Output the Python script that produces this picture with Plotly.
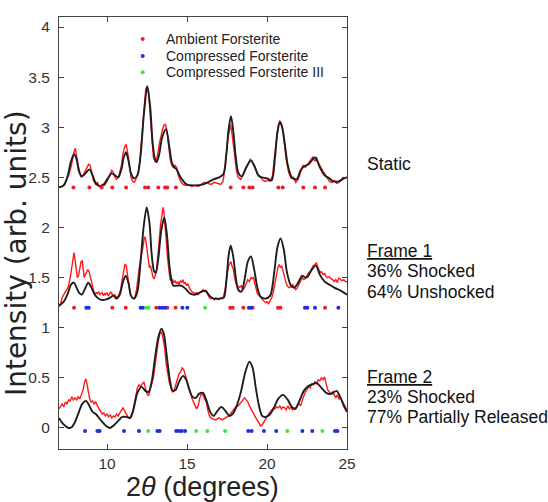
import plotly.graph_objects as go

# ---------------- data ----------------
# Static panel
STATIC_CALC_X = [7.0, 7.3, 7.55, 7.75, 7.94, 8.1, 8.25, 8.42, 8.6, 8.9, 9.1, 9.3, 9.56, 9.8, 10.05, 10.29, 10.5, 10.7,
                 10.9, 11.05, 11.19, 11.35, 11.5, 11.69, 11.9, 12.1, 12.3, 12.52, 12.7, 12.85, 13.0, 13.1, 13.25, 13.45,
                 13.69, 13.9, 14.05, 14.2, 14.35, 14.6, 14.98, 15.5, 16.0, 16.65, 17.0, 17.27, 17.45, 17.6, 17.75, 17.9,
                 18.05, 18.2, 18.42, 18.7, 19.0, 19.25, 19.45, 19.67, 20.0, 20.29, 20.5, 20.65, 20.81, 20.95, 21.1, 21.3,
                 21.55, 21.85, 22.1, 22.33, 22.6, 23.0, 23.3, 23.6, 23.9, 24.15, 24.5, 24.8, 25.0]
STATIC_CALC_Y = [2.40, 2.42, 2.52, 2.66, 2.73, 2.68, 2.56, 2.51, 2.53, 2.58, 2.52, 2.44, 2.41, 2.43, 2.49, 2.54, 2.52, 2.50,
                 2.58, 2.70, 2.75, 2.66, 2.54, 2.49, 2.52, 2.72, 3.12, 3.41, 3.20, 2.85, 2.68, 2.65, 2.72, 2.90,
                 2.98, 2.80, 2.65, 2.60, 2.58, 2.50, 2.43, 2.42, 2.43, 2.48, 2.50, 2.53, 2.72, 2.98, 3.11, 2.95,
                 2.70, 2.55, 2.51, 2.60, 2.67, 2.60, 2.52, 2.50, 2.49, 2.47, 2.70, 2.95, 3.05, 3.00, 2.85, 2.62,
                 2.50, 2.48, 2.57, 2.61, 2.63, 2.70, 2.60, 2.52, 2.49, 2.46, 2.46, 2.49, 2.50]

STATIC_OBS_X = [7.0, 7.2, 7.4, 7.6, 7.75, 7.85, 7.95, 8.02, 8.1, 8.2, 8.3, 8.4, 8.5, 8.6, 8.75, 8.85, 8.95, 9.05, 9.15,
                9.3, 9.4, 9.5, 9.6, 9.7, 9.85, 10.0, 10.15, 10.3, 10.4, 10.5, 10.6, 10.75, 10.9, 11.0, 11.1, 11.2, 11.3,
                11.4, 11.5, 11.6, 11.7, 11.8, 11.95, 12.05, 12.15, 12.3, 12.42, 12.5, 12.6, 12.7, 12.8, 12.9, 13.0,
                13.1, 13.2, 13.3, 13.45, 13.55, 13.65, 13.75, 13.85, 13.95, 14.05, 14.15, 14.25, 14.35, 14.45, 14.6,
                14.75, 14.9, 15.1, 15.3, 15.5, 15.7, 15.9, 16.1, 16.3, 16.5, 16.7, 16.9, 17.1, 17.25, 17.4, 17.55,
                17.65, 17.72, 17.8, 17.9, 18.0, 18.1, 18.2, 18.35, 18.5, 18.65, 18.8, 18.95, 19.05, 19.2, 19.3, 19.45,
                19.6, 19.75, 19.9, 20.05, 20.2, 20.35, 20.45, 20.6, 20.7, 20.8, 20.9, 21.0, 21.1, 21.2, 21.35, 21.5,
                21.65, 21.8, 21.95, 22.1, 22.25, 22.4, 22.55, 22.7, 22.85, 23.0, 23.1, 23.2, 23.35, 23.5, 23.6, 23.75,
                23.9, 24.05, 24.2, 24.35, 24.5, 24.65, 24.8, 24.9, 25.0]
STATIC_OBS_Y = [2.40, 2.41, 2.45, 2.52, 2.60, 2.70, 2.76, 2.79, 2.70, 2.62, 2.55, 2.50, 2.52, 2.55, 2.60, 2.63, 2.62, 2.54, 2.47,
                2.43, 2.45, 2.42, 2.40, 2.43, 2.42, 2.46, 2.52, 2.57, 2.55, 2.50, 2.48, 2.52, 2.62, 2.74, 2.80, 2.83, 2.74,
                2.60, 2.50, 2.46, 2.45, 2.48, 2.55, 2.66, 2.88, 3.18, 3.38, 3.41, 3.35, 3.12, 2.86, 2.70, 2.66,
                2.68, 2.76, 2.86, 2.96, 3.02, 3.03, 2.96, 2.82, 2.68, 2.62, 2.60, 2.62, 2.60, 2.52, 2.46,
                2.43, 2.42, 2.42, 2.41, 2.42, 2.41, 2.43, 2.45, 2.44, 2.43, 2.45, 2.44, 2.43, 2.46, 2.62, 2.88,
                3.00, 3.03, 2.95, 2.80, 2.64, 2.56, 2.50, 2.48, 2.52, 2.58, 2.64, 2.68, 2.66, 2.61, 2.58, 2.53,
                2.50, 2.47, 2.46, 2.47, 2.46, 2.52, 2.68, 2.92, 3.02, 3.06, 3.04, 2.95, 2.82, 2.68, 2.55, 2.49,
                2.50, 2.45, 2.48, 2.56, 2.62, 2.60, 2.63, 2.66, 2.70, 2.66, 2.70, 2.65, 2.60, 2.56, 2.54, 2.50,
                2.46, 2.45, 2.47, 2.44, 2.45, 2.48, 2.50, 2.49, 2.50]

# Frame 1 panel
F1_CALC_X = [7.0, 7.3, 7.55, 7.75, 7.94, 8.1, 8.25, 8.42, 8.6, 8.83, 9.0, 9.2, 9.4, 9.6, 9.9, 10.2, 10.4, 10.6, 10.8,
             11.0, 11.17, 11.35, 11.5, 11.69, 11.9, 12.1, 12.3, 12.48, 12.65, 12.8, 12.95, 13.05, 13.2, 13.4, 13.58,
             13.75, 13.9, 14.05, 14.15, 14.4, 14.65, 14.9, 15.2, 15.5, 15.8, 16.13, 16.4, 16.65, 17.0, 17.3, 17.45,
             17.6, 17.73, 17.88, 18.05, 18.2, 18.4, 18.6, 18.8, 19.0, 19.2, 19.4, 19.6, 19.9, 20.2, 20.45, 20.65,
             20.85, 21.05, 21.25, 21.5, 21.7, 21.95, 22.2, 22.4, 22.55, 22.8, 23.06, 23.3, 23.6, 23.9, 24.2, 24.6,
             24.8, 25.0]
F1_CALC_Y = [1.22, 1.26, 1.34, 1.43, 1.45, 1.40, 1.35, 1.33, 1.38, 1.45, 1.41, 1.34, 1.30, 1.28, 1.28, 1.30, 1.32, 1.29, 1.33,
             1.46, 1.52, 1.44, 1.32, 1.29, 1.36, 1.66, 2.02, 2.20, 2.05, 1.72, 1.56, 1.55, 1.68, 1.98, 2.10,
             1.92, 1.62, 1.46, 1.42, 1.42, 1.42, 1.39, 1.34, 1.33, 1.35, 1.37, 1.32, 1.29, 1.29, 1.30, 1.45,
             1.72, 1.82, 1.72, 1.50, 1.38, 1.36, 1.48, 1.66, 1.71, 1.58, 1.40, 1.31, 1.29, 1.32, 1.55, 1.80,
             1.89, 1.78, 1.55, 1.42, 1.40, 1.45, 1.52, 1.50, 1.51, 1.58, 1.62, 1.53, 1.46, 1.43, 1.40, 1.37,
             1.35, 1.33]

F1_OBS_X = [7.0, 7.1, 7.2, 7.3, 7.4, 7.5, 7.6, 7.7, 7.8, 7.88, 7.94, 8.0, 8.08, 8.15, 8.22, 8.3, 8.38, 8.45, 8.52, 8.58,
            8.65, 8.72, 8.8, 8.88, 8.95, 9.02, 9.1, 9.18, 9.25, 9.32, 9.4, 9.48, 9.55, 9.62, 9.7, 9.78, 9.85, 9.92,
            10.0, 10.08, 10.15, 10.22, 10.3, 10.38, 10.45, 10.55, 10.65, 10.75, 10.85, 10.95, 11.05, 11.12, 11.2,
            11.28, 11.36, 11.45, 11.55, 11.65, 11.75, 11.85, 11.95, 12.05, 12.12, 12.2, 12.28, 12.35, 12.42, 12.5,
            12.58, 12.65, 12.72, 12.8, 12.88, 12.95, 13.02, 13.1, 13.18, 13.26, 13.34, 13.42, 13.5, 13.55, 13.62,
            13.7, 13.78, 13.86, 13.94, 14.02, 14.1, 14.18, 14.26, 14.34, 14.42, 14.5, 14.58, 14.66, 14.74, 14.82,
            14.9, 14.98, 15.06, 15.14, 15.22, 15.3, 15.4, 15.5, 15.6, 15.7, 15.8, 15.9, 16.0, 16.1, 16.2, 16.3,
            16.4, 16.5, 16.6, 16.7, 16.8, 16.9, 17.0, 17.1, 17.2, 17.3, 17.4, 17.5, 17.6, 17.68, 17.75, 17.82, 17.9,
            17.98, 18.06, 18.14, 18.22, 18.3, 18.4, 18.5, 18.6, 18.7, 18.8, 18.9, 19.0, 19.08, 19.16, 19.24, 19.32,
            19.4, 19.5, 19.6, 19.7, 19.8, 19.9, 20.0, 20.1, 20.2, 20.3, 20.4, 20.5, 20.6, 20.68, 20.76, 20.84, 20.92,
            21.0, 21.1, 21.2, 21.3, 21.4, 21.5, 21.6, 21.7, 21.8, 21.9, 22.0, 22.1, 22.2, 22.3, 22.4, 22.5, 22.6,
            22.7, 22.8, 22.9, 23.0, 23.08, 23.16, 23.24, 23.32, 23.4, 23.5, 23.6, 23.7, 23.8, 23.9, 24.0, 24.1,
            24.2, 24.3, 24.4, 24.5, 24.6, 24.7, 24.8, 24.9, 25.0]
F1_OBS_Y = [1.21, 1.24, 1.30, 1.34, 1.36, 1.38, 1.42, 1.50, 1.62, 1.72, 1.75, 1.68, 1.55, 1.50, 1.52, 1.60, 1.66, 1.67, 1.58, 1.50,
            1.53, 1.56, 1.58, 1.56, 1.51, 1.46, 1.40, 1.36, 1.33, 1.35, 1.34, 1.36, 1.33, 1.34, 1.35, 1.32, 1.34, 1.33,
            1.35, 1.32, 1.33, 1.36, 1.34, 1.32, 1.33, 1.31, 1.30, 1.33, 1.38, 1.48, 1.58, 1.63, 1.62,
            1.52, 1.42, 1.34, 1.30, 1.29, 1.31, 1.38, 1.52, 1.66, 1.71, 1.76, 1.86, 1.91, 1.88, 1.76,
            1.64, 1.60, 1.62, 1.55, 1.50, 1.49, 1.52, 1.58, 1.70, 1.86, 2.02, 2.12, 2.20, 2.16, 2.05,
            1.88, 1.70, 1.56, 1.48, 1.47, 1.48, 1.45, 1.47, 1.44, 1.46, 1.43, 1.47, 1.45, 1.48, 1.44,
            1.45, 1.42, 1.44, 1.40, 1.38, 1.36, 1.35, 1.34, 1.35, 1.33, 1.35, 1.36, 1.38, 1.36, 1.37, 1.33,
            1.30, 1.29, 1.30, 1.28, 1.30, 1.29, 1.28, 1.30, 1.29, 1.32, 1.40, 1.52, 1.62, 1.64, 1.66, 1.61, 1.58,
            1.50, 1.44, 1.42, 1.41, 1.40, 1.42, 1.38, 1.40, 1.45, 1.48, 1.46, 1.50, 1.49, 1.50, 1.44, 1.38,
            1.34, 1.32, 1.30, 1.29, 1.27, 1.25, 1.26, 1.24, 1.27, 1.30, 1.36, 1.44, 1.55, 1.60, 1.63, 1.60, 1.62,
            1.56, 1.50, 1.44, 1.41, 1.40, 1.41, 1.43, 1.40, 1.38, 1.40, 1.43, 1.47, 1.50, 1.48, 1.49, 1.52, 1.55,
            1.56, 1.60, 1.62, 1.63, 1.65, 1.61, 1.58, 1.55, 1.56, 1.53, 1.54, 1.51, 1.50, 1.51, 1.49, 1.48,
            1.46, 1.48, 1.45, 1.50, 1.48, 1.47, 1.48, 1.46, 1.46]

# Frame 2 panel
F2_CALC_X = [7.0, 7.2, 7.4, 7.6, 7.8, 8.0, 8.2, 8.45, 8.69, 8.9, 9.1, 9.3, 9.5, 9.7, 9.95, 10.19, 10.45, 10.7, 10.95,
             11.2, 11.45, 11.65, 11.9, 12.17, 12.4, 12.6, 12.8, 13.0, 13.2, 13.4, 13.55, 13.75, 13.95, 14.1, 14.3,
             14.5, 14.75, 14.95, 15.15, 15.35, 15.55, 15.75, 16.0, 16.2, 16.45, 16.65, 16.9, 17.15, 17.4, 17.65,
             17.9, 18.15, 18.4, 18.65, 18.9, 19.1, 19.3, 19.5, 19.7, 19.9, 20.15, 20.4, 20.7, 21.0, 21.3, 21.55,
             21.75, 22.0, 22.3, 22.6, 22.9, 23.1, 23.4, 23.7, 24.0, 24.35, 24.6, 24.8, 25.0]
F2_CALC_Y = [0.10, 0.05, 0.02, 0.00, 0.01, 0.06, 0.14, 0.24, 0.27, 0.22, 0.16, 0.14, 0.10, 0.06, 0.02, 0.00, 0.03, 0.07, 0.11,
             0.11, 0.10, 0.18, 0.35, 0.41, 0.37, 0.36, 0.47, 0.70, 0.90, 0.99, 0.94, 0.70, 0.46, 0.37, 0.38,
             0.46, 0.52, 0.48, 0.38, 0.31, 0.30, 0.34, 0.35, 0.28, 0.16, 0.12, 0.17, 0.21, 0.17, 0.12,
             0.15, 0.24, 0.38, 0.56, 0.66, 0.60, 0.40, 0.22, 0.12, 0.11, 0.13, 0.19, 0.29, 0.33, 0.28, 0.21,
             0.19, 0.26, 0.37, 0.42, 0.44, 0.45, 0.40, 0.35, 0.34, 0.37, 0.30, 0.22, 0.16]

F2_OBS_X = [7.0, 7.1, 7.2, 7.3, 7.4, 7.5, 7.6, 7.7, 7.8, 7.9, 8.0, 8.1, 8.2, 8.3, 8.4, 8.5, 8.6, 8.68, 8.75, 8.82, 8.9,
            9.0, 9.1, 9.2, 9.3, 9.4, 9.5, 9.6, 9.7, 9.8, 9.9, 10.0, 10.1, 10.2, 10.3, 10.4, 10.5, 10.6, 10.7, 10.8,
            10.9, 11.0, 11.1, 11.2, 11.3, 11.4, 11.5, 11.6, 11.7, 11.8, 11.9, 12.0, 12.1, 12.2, 12.3, 12.4, 12.5,
            12.6, 12.7, 12.8, 12.9, 13.0, 13.1, 13.2, 13.3, 13.4, 13.5, 13.6, 13.7, 13.8, 13.9, 14.0, 14.1, 14.2,
            14.3, 14.4, 14.5, 14.6, 14.7, 14.8, 14.9, 15.0, 15.1, 15.2, 15.3, 15.4, 15.5, 15.6, 15.7, 15.8, 15.9,
            16.0, 16.1, 16.2, 16.3, 16.4, 16.5, 16.6, 16.8, 17.0, 17.2, 17.4, 17.6, 17.8, 18.0, 18.2, 18.4, 18.5,
            18.6, 18.7, 18.8, 18.9, 19.0, 19.1, 19.2, 19.3, 19.4, 19.5, 19.6, 19.7, 19.8, 19.9, 20.0, 20.1, 20.2,
            20.3, 20.4, 20.5, 20.6, 20.7, 20.8, 20.9, 21.0, 21.1, 21.2, 21.3, 21.4, 21.5, 21.6, 21.7, 21.8, 21.9,
            22.0, 22.1, 22.2, 22.3, 22.4, 22.5, 22.6, 22.7, 22.8, 22.9, 23.0, 23.1, 23.2, 23.3, 23.4, 23.5, 23.6,
            23.7, 23.8, 23.9, 24.0, 24.1, 24.2, 24.3, 24.4, 24.5, 24.6, 24.7, 24.8, 24.9, 25.0]
F2_OBS_Y = [0.19, 0.22, 0.24, 0.21, 0.26, 0.24, 0.28, 0.27, 0.31, 0.28, 0.30, 0.28, 0.31, 0.29, 0.33, 0.38, 0.46, 0.49, 0.44, 0.36, 0.30,
            0.26, 0.27, 0.24, 0.26, 0.22, 0.19, 0.16, 0.14, 0.15, 0.12, 0.14, 0.11, 0.13, 0.10, 0.12, 0.11, 0.14, 0.12, 0.15,
            0.18, 0.20, 0.17, 0.14, 0.11, 0.10, 0.12, 0.16, 0.24, 0.34, 0.40, 0.43, 0.41, 0.44, 0.46, 0.40, 0.34,
            0.32, 0.38, 0.46, 0.50, 0.62, 0.76, 0.86, 0.94, 0.96, 0.90, 0.80, 0.64, 0.52, 0.45, 0.40, 0.36, 0.38,
            0.44, 0.50, 0.54, 0.56, 0.60, 0.58, 0.52, 0.46, 0.40, 0.34, 0.30, 0.26, 0.22, 0.19, 0.22, 0.30, 0.34,
            0.33, 0.29, 0.26, 0.18, 0.12, 0.10, 0.09, 0.08, 0.10, 0.08, 0.10, 0.12, 0.16, 0.20, 0.22, 0.26, 0.29,
            0.30, 0.28, 0.26, 0.22, 0.18, 0.16, 0.13, 0.10, 0.07, 0.04, 0.02, 0.03, 0.06, 0.09, 0.11, 0.14, 0.16,
            0.18, 0.20, 0.19, 0.21, 0.20, 0.22, 0.19, 0.21, 0.20, 0.18, 0.22, 0.19, 0.21, 0.18, 0.20, 0.19, 0.22,
            0.24, 0.22, 0.28, 0.32, 0.36, 0.39, 0.41, 0.40, 0.44, 0.43, 0.46, 0.44, 0.48, 0.47, 0.50, 0.48, 0.51,
            0.44, 0.38, 0.36, 0.34, 0.36, 0.32, 0.30, 0.33, 0.29, 0.30, 0.27, 0.24, 0.21, 0.18]

# Reflection positions (2theta) for each phase, per panel
STATIC_AMBIENT = [7.90, 8.90, 9.67, 10.33, 11.19, 12.38, 12.58, 13.21, 13.63, 13.77, 14.31, 17.73, 18.52, 18.90,
                  19.10, 20.71, 20.98, 22.27, 23.00, 23.63]
F1_AMBIENT = [7.94, 10.33, 11.17, 13.08, 13.77, 14.29, 17.70, 17.85, 18.52, 19.10, 20.69, 20.84, 23.63]
F1_COMPRESSED = [8.71, 8.86, 12.10, 12.25, 13.29, 13.46, 13.63, 14.71, 15.02, 18.87, 19.00, 22.37, 22.52, 23.00, 24.46]
F1_COMPRESSED_III = [12.46, 12.60, 16.13]
F2_COMPRESSED = [8.63, 9.40, 9.54, 11.06, 12.00, 13.15, 13.29, 14.33, 14.50, 14.67, 14.88, 18.83, 19.04, 19.81,
                 20.58, 22.21, 22.83, 24.25, 24.40]
F2_COMPRESSED_III = [12.58, 15.58, 16.27, 17.38, 21.27, 23.46]

# vertical level of each panel's reflection-marker row
TICK_ROW = {"static": 2.40, "frame1": 1.20, "frame2": -0.03}

LEGEND_NAMES = ["Ambient Forsterite", "Compressed Forsterite", "Compressed Forsterite III"]
PANEL_LABELS = [
    ("Static", 2.635),
    ("<u>Frame 1</u>", 1.77),
    ("36% Shocked", 1.57),
    ("64% Unshocked", 1.355),
    ("<u>Frame 2</u>", 0.505),
    ("23% Shocked", 0.305),
    ("77% Partially Released", 0.105),
]

# ---------------- styles ----------------
RED = "#ff1a1a"
BLACK = "#1e1e1e"
PHASE_COLORS = ["#e8202a", "#1f2fe0", "#3ee83e"]
FONT = "Liberation Sans, Arial, sans-serif"

fig = go.Figure()

for xs, ys in [(STATIC_OBS_X, STATIC_OBS_Y), (F1_OBS_X, F1_OBS_Y), (F2_OBS_X, F2_OBS_Y)]:
    fig.add_trace(go.Scatter(x=xs, y=ys, mode="lines", line=dict(color=RED, width=1.4),
                             showlegend=False, hoverinfo="skip"))
for xs, ys in [(STATIC_CALC_X, STATIC_CALC_Y), (F1_CALC_X, F1_CALC_Y), (F2_CALC_X, F2_CALC_Y)]:
    fig.add_trace(go.Scatter(x=xs, y=ys, mode="lines", line=dict(color=BLACK, width=1.9, shape="spline", smoothing=0.8),
                             showlegend=False, hoverinfo="skip"))

marker_sets = [
    (STATIC_AMBIENT, TICK_ROW["static"], 0),
    (F1_AMBIENT, TICK_ROW["frame1"], 0),
    (F1_COMPRESSED, TICK_ROW["frame1"], 1),
    (F1_COMPRESSED_III, TICK_ROW["frame1"], 2),
    (F2_COMPRESSED, TICK_ROW["frame2"], 1),
    (F2_COMPRESSED_III, TICK_ROW["frame2"], 2),
]
for xs, level, k in marker_sets:
    fig.add_trace(go.Scatter(x=xs, y=[level] * len(xs), mode="markers",
                             marker=dict(color=PHASE_COLORS[k], size=4, line=dict(width=0)),
                             showlegend=False, hoverinfo="skip"))

# manual legend: key markers on a hidden overlay axis spanning the plot area (0..1)
legend_rows = [0.949, 0.910, 0.872]
fig.add_trace(go.Scatter(x=[0.2906] * 3, y=legend_rows, xaxis="x2", yaxis="y2", mode="markers",
                         marker=dict(color=PHASE_COLORS, size=4, line=dict(width=0)),
                         showlegend=False, hoverinfo="skip"))
for name, yy in zip(LEGEND_NAMES, legend_rows):
    fig.add_annotation(x=0.363, y=yy, xref="paper", yref="paper", text=name, showarrow=False,
                       xanchor="left", yanchor="middle", font=dict(family=FONT, size=14, color="#222"))

for text, yy in PANEL_LABELS:
    fig.add_annotation(x=1.063, y=yy, xref="paper", yref="y", text=text, showarrow=False,
                       xanchor="left", yanchor="middle", font=dict(family=FONT, size=17.5, color="#111"))

# axis titles as annotations for exact placement
fig.add_annotation(x=-0.149, y=0.4537, xref="paper", yref="paper", text="Intensity (arb. units)",
                   textangle=-90, showarrow=False, xanchor="center", yanchor="middle",
                   font=dict(family="DejaVu Sans, sans-serif", size=28, color="#222"))
fig.add_annotation(x=0.497, y=-0.125, xref="paper", yref="paper", text="2<i>θ</i> (degrees)",
                   showarrow=False, xanchor="center", yanchor="bottom", borderpad=0,
                   font=dict(family=FONT, size=27, color="#222"))

axis_common = dict(showline=True, linecolor="#444", linewidth=1, mirror="ticks", ticks="inside",
                   ticklen=5, tickcolor="#444", showgrid=False, zeroline=False,
                   tickfont=dict(family=FONT, size=15.5, color="#333"))

fig.update_layout(
    width=548, height=502,
    margin=dict(l=59, r=201, t=17, b=53),
    paper_bgcolor="white", plot_bgcolor="white",
    font=dict(family=FONT),
    xaxis=dict(range=[7, 25], tickvals=[10, 15, 20, 25], ticklabelstandoff=0, **axis_common),
    yaxis=dict(range=[-0.21, 4.1], tickvals=[0, 0.5, 1, 1.5, 2, 2.5, 3, 3.5, 4], ticklabelstandoff=5,
               **axis_common),
    xaxis2=dict(range=[0, 1], overlaying="x", visible=False, fixedrange=True),
    yaxis2=dict(range=[0, 1], overlaying="y", visible=False, fixedrange=True),
    showlegend=False,
)

fig.write_html("out.html")
